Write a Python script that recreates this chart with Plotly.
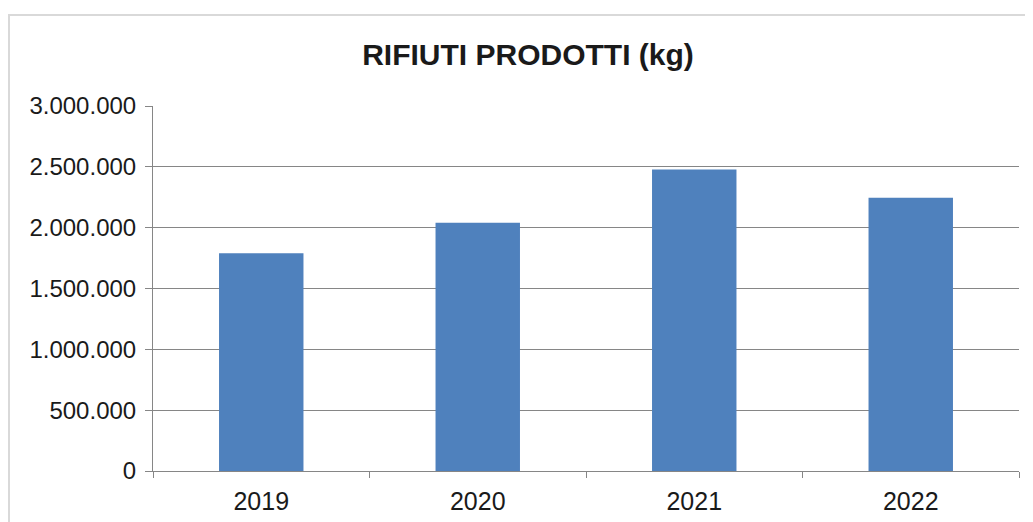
import plotly.graph_objects as go

ANNI = ["2019", "2020", "2021", "2022"]
RIFIUTI_KG = [1790000, 2040000, 2478000, 2245000]
Y_TICKS = [0, 500000, 1000000, 1500000, 2000000, 2500000, 3000000]

BLU = "#4F81BD"
GRIGIO = "#868686"
TESTO = "#1a1a1a"

# la pagina ha 8px di margine del body: la figura parte da (8, 8)
OFF = 8
W, H = 1033 - OFF, 522 - OFF
M_L, M_R, M_T, M_B = 153 - OFF, 14, 106 - OFF, 51

fig = go.Figure()
fig.add_trace(go.Bar(x=ANNI, y=RIFIUTI_KG, marker_color=BLU, marker_line_width=0))

# cornice grigia chiara del grafico (in parte fuori dall'immagine)
pw, ph = W - M_L - M_R, H - M_T - M_B
fig.add_shape(
    type="rect", xref="paper", yref="paper",
    x0=(1 - M_L) / pw, x1=(W + 20 - M_L) / pw,
    y0=-(M_B + 20) / ph, y1=1 + (M_T - 7) / ph,
    line=dict(color="#d9d9d9", width=2), layer="below",
)

fig.update_layout(
    width=W, height=H,
    paper_bgcolor="white", plot_bgcolor="white",
    font=dict(family="Liberation Sans, Arial, sans-serif", color=TESTO, size=24),
    title=dict(
        text="<b>RIFIUTI PRODOTTI (kg)</b>",
        font=dict(size=30, color=TESTO),
        xref="container", x=(528 - OFF) / W, xanchor="center",
        yref="container", y=1 - (54 - OFF) / H, yanchor="middle",
    ),
    margin=dict(l=M_L, r=M_R, t=M_T, b=M_B),
    bargap=0.61,
    separators=",.",
    showlegend=False,
)
fig.update_xaxes(
    showline=True, linecolor=GRIGIO, linewidth=1,
    ticks="outside", tickson="boundaries", ticklen=6, tickcolor=GRIGIO,
    tickfont=dict(size=25), ticklabelstandoff=8, automargin=False,
    showgrid=False,
)
fig.update_yaxes(
    range=[0, 3000000], tickvals=Y_TICKS, tickformat=",.0f",
    showline=True, linecolor=GRIGIO, linewidth=1,
    ticks="outside", ticklen=7, tickcolor=GRIGIO, ticklabelstandoff=4,
    showgrid=True, gridcolor=GRIGIO, gridwidth=1, zeroline=False,
)

fig.write_html("out.html")
